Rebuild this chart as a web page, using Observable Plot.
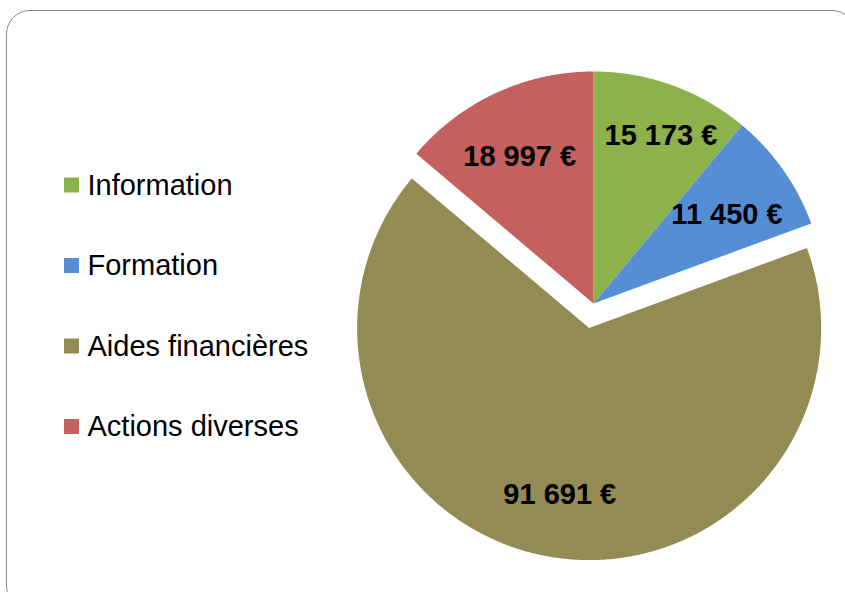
<!DOCTYPE html>
<html>
<head>
<meta charset="utf-8">
<script src="https://cdn.jsdelivr.net/npm/d3@7"></script>
<script src="https://cdn.jsdelivr.net/npm/@observablehq/plot@0.6"></script>
<style>
  html, body { margin: 0; padding: 0; background: #fff; }
  #wrap { position: relative; width: 845px; height: 592px; overflow: hidden; }
  #frame { position: absolute; left: 6px; top: 10px; width: 850px; height: 600px;
           border: 1.6px solid #8a8a8a; border-radius: 24px; box-sizing: border-box; }
  #chart { position: absolute; left: 0; top: 0; }
  svg { font-family: "Liberation Sans", Arial, sans-serif; }
</style>
</head>
<body>
<div id="wrap"><div id="frame"></div><div id="chart"></div></div>
<script>
// ---- data ----
const categories = ["Information", "Formation", "Aides financières", "Actions diverses"];
const values = [15173, 11450, 91691, 18997];
const labels = ["15 173 €", "11 450 €", "91 691 €", "18 997 €"];
const colors = ["#8DB14B", "#558ED5", "#948A54", "#C4605D"];

// ---- layout (not data) ----
const W = 845, H = 592;
const cx = 593, cy = 303, R = 232;
const exploded = "Aides financières";
const explodeDist = 25;
const labelFrac = [0.78, 0.69, 0.73, 0.71];   // label distance from centre, as fraction of radius
const labelTurn = [0.035, 0.03, 0, -0.03];     // small angular nudge of labels (radians)

const arcs = d3.pie().sort(null).value(d => d.value)(
  categories.map((c, i) => ({category: c, value: values[i], label: labels[i]}))
);

const polys = [];
const labelPts = [];
arcs.forEach((a, i) => {
  const mid = (a.startAngle + a.endAngle) / 2;
  const off = a.data.category === exploded ? explodeDist : 0;
  const ox = cx + off * Math.sin(mid), oy = cy - off * Math.cos(mid);
  polys.push({category: a.data.category, x: ox, y: oy});
  const n = Math.max(2, Math.ceil((a.endAngle - a.startAngle) / 0.005));
  for (let k = 0; k <= n; k++) {
    const t = a.startAngle + (a.endAngle - a.startAngle) * k / n;
    polys.push({category: a.data.category, x: ox + R * Math.sin(t), y: oy - R * Math.cos(t)});
  }
  polys.push({category: a.data.category, x: ox, y: oy});
  const la = mid + labelTurn[i];
  labelPts.push({label: a.data.label,
    x: ox + labelFrac[i] * R * Math.sin(la), y: oy - labelFrac[i] * R * Math.cos(la)});
});

const legendRows = categories.map((c, i) => ({category: c, cy: 185 + i * 80.5}));

const chart = Plot.plot({
  width: W, height: H,
  margin: 0,
  x: {domain: [0, W], range: [0, W], axis: null},
  y: {domain: [0, H], range: [0, H], axis: null},
  color: {domain: categories, range: colors},
  marks: [
    Plot.line(polys, {x: "x", y: "y", z: "category", fill: "category", stroke: "none", curve: "linear"}),
    Plot.text(labelPts, {x: "x", y: "y", text: "label", fontSize: 29, fontWeight: "bold",
      fill: "black", textAnchor: "middle", lineAnchor: "middle"}),
    Plot.rect(legendRows, {x1: () => 64, x2: () => 79, y1: d => d.cy - 7.5, y2: d => d.cy + 7.5, fill: "category"}),
    Plot.text(legendRows, {x: () => 87, y: "cy", text: "category", fontSize: 29, fill: "black",
      textAnchor: "start", lineAnchor: "middle"})
  ]
});
document.getElementById("chart").appendChild(chart);
</script>
</body>
</html>
